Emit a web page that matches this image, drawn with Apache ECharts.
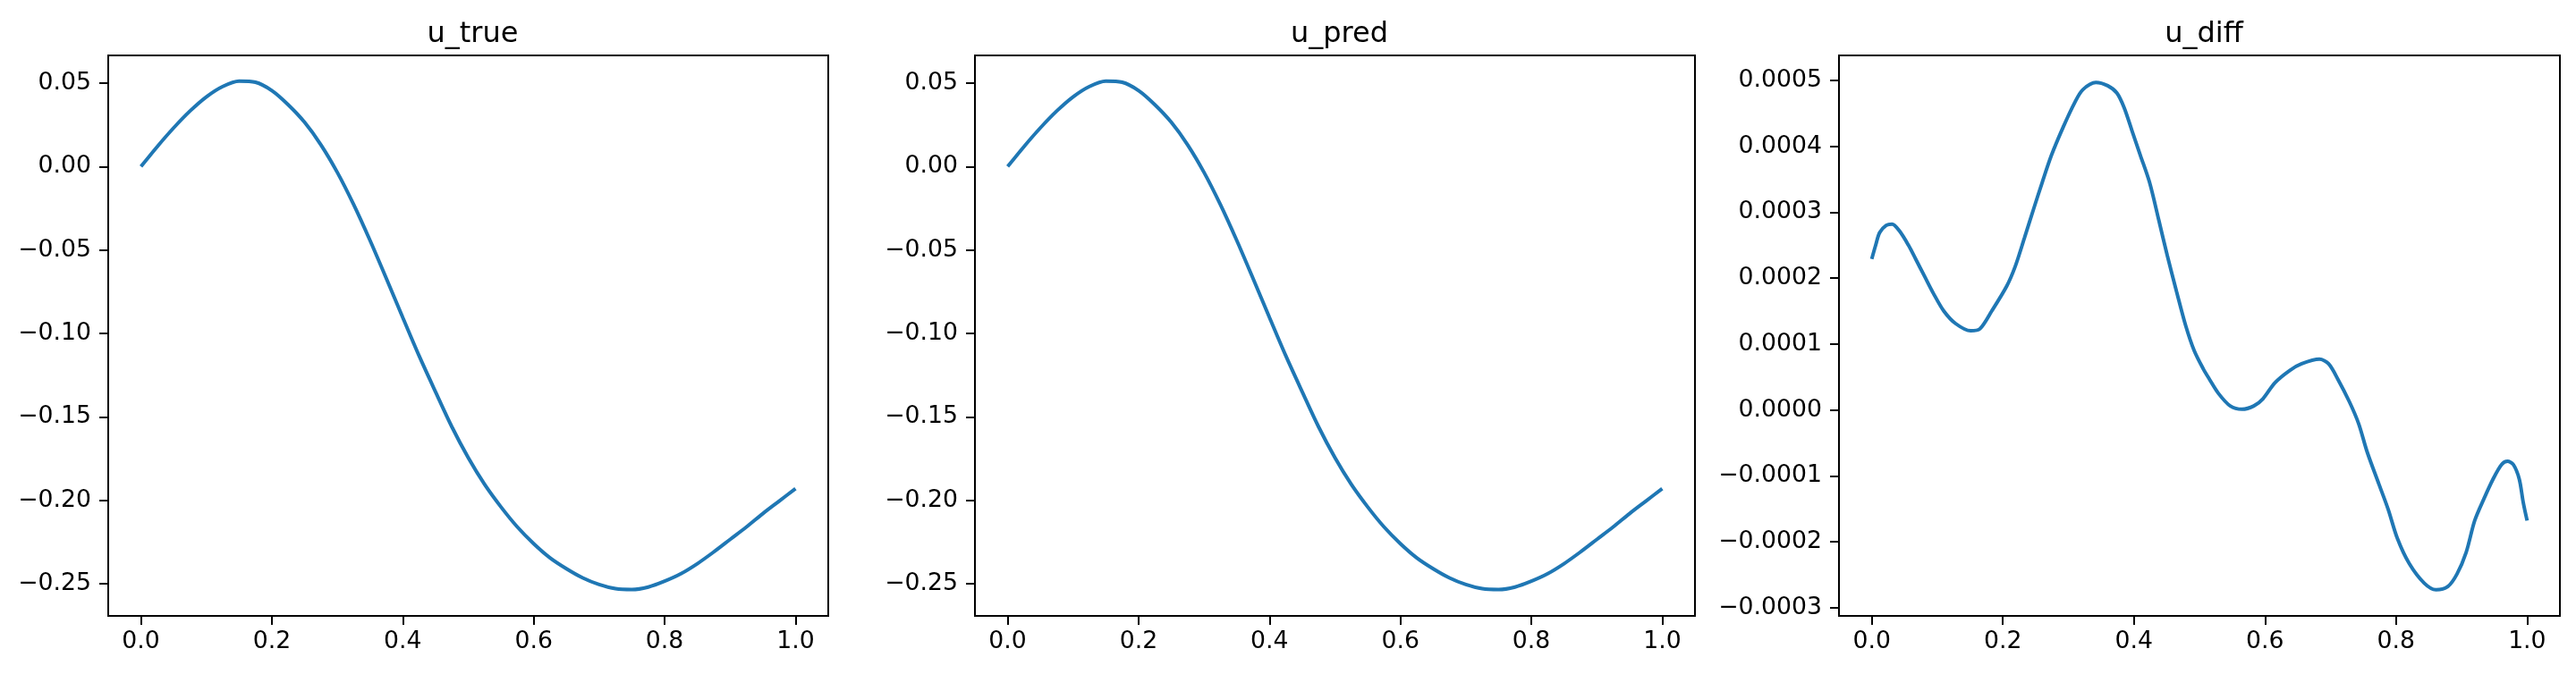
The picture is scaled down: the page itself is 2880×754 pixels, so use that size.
<!DOCTYPE html>
<html>
<head>
<meta charset="utf-8">
<script src="https://cdn.jsdelivr.net/npm/echarts@6/dist/echarts.min.js"></script>
<style>
html,body{margin:0;padding:0;background:#fff;}
#chart{width:2880px;height:754px;}
</style>
</head>
<body>
<div id="chart"></div>
<script>
// ---- data ----
const titles = ['u_true', 'u_pred', 'u_diff'];
const xTicks = [0, 0.2, 0.4, 0.6, 0.8, 1.0];
const yTicksU = [-0.25, -0.20, -0.15, -0.10, -0.05, 0.00, 0.05];
const yTicksDiff = [-0.0003, -0.0002, -0.0001, 0, 0.0001, 0.0002, 0.0003, 0.0004, 0.0005];

const xU = [0.000, 0.025, 0.050, 0.075, 0.100, 0.125, 0.150, 0.175, 0.200, 0.225, 0.250,
            0.275, 0.300, 0.325, 0.350, 0.375, 0.400, 0.425, 0.450, 0.475, 0.500,
            0.525, 0.550, 0.575, 0.600, 0.625, 0.650, 0.675, 0.700, 0.725, 0.750,
            0.775, 0.800, 0.825, 0.850, 0.875, 0.900, 0.925, 0.950, 0.975, 1.000];
const uTrue = [0.0000, 0.0120, 0.0232, 0.0333, 0.0418, 0.0480, 0.0512, 0.0505, 0.0455, 0.0370, 0.0265,
               0.0130, -0.0035, -0.0228, -0.0443, -0.0672, -0.0905, -0.1135, -0.1350, -0.1560, -0.1745,
               -0.1905, -0.2040, -0.2160, -0.2260, -0.2345, -0.2410, -0.2465, -0.2505, -0.2530, -0.2535,
               -0.2520, -0.2485, -0.2440, -0.2380, -0.2310, -0.2235, -0.2160, -0.2080, -0.2005, -0.1930];
const uPred = [0.0000, 0.0120, 0.0232, 0.0333, 0.0418, 0.0480, 0.0512, 0.0505, 0.0455, 0.0370, 0.0265,
               0.0130, -0.0035, -0.0228, -0.0443, -0.0672, -0.0905, -0.1135, -0.1350, -0.1560, -0.1745,
               -0.1905, -0.2040, -0.2160, -0.2260, -0.2345, -0.2410, -0.2465, -0.2505, -0.2530, -0.2535,
               -0.2520, -0.2485, -0.2440, -0.2380, -0.2310, -0.2235, -0.2160, -0.2080, -0.2005, -0.1930];

const xDiff = [0.000, 0.006, 0.012, 0.022, 0.031, 0.042, 0.056, 0.067, 0.081, 0.094, 0.110, 0.128, 0.151, 0.165,
               0.183, 0.206, 0.219, 0.233, 0.247, 0.260, 0.274, 0.292, 0.310, 0.322, 0.342, 0.360, 0.374, 0.385,
               0.397, 0.410, 0.424, 0.438, 0.451, 0.465, 0.479, 0.492, 0.506, 0.515, 0.529, 0.547, 0.565, 0.583,
               0.597, 0.615, 0.638, 0.656, 0.683, 0.697, 0.711, 0.729, 0.743, 0.756, 0.774, 0.788, 0.802, 0.820,
               0.843, 0.861, 0.879, 0.893, 0.907, 0.920, 0.934, 0.948, 0.961, 0.970, 0.979, 0.988, 0.994, 1.000];
const uDiff = [0.000229, 0.000250, 0.000269, 0.000280, 0.000282, 0.000272, 0.000250, 0.000229, 0.000202, 0.000177,
               0.000150, 0.000131, 0.000120, 0.000123, 0.000150, 0.000188, 0.000218, 0.000261, 0.000305, 0.000345,
               0.000386, 0.000429, 0.000467, 0.000486, 0.000497, 0.000492, 0.000481, 0.000459, 0.000424, 0.000386,
               0.000345, 0.000288, 0.000234, 0.000180, 0.000128, 0.000090, 0.000062, 0.000047, 0.000025, 0.000006,
               0.000001, 0.000006, 0.000017, 0.000041, 0.000060, 0.000070, 0.000077, 0.000070, 0.000047, 0.000012,
               -0.000021, -0.000064, -0.000113, -0.000151, -0.000195, -0.000233, -0.000263, -0.000273, -0.000268, -0.000249,
               -0.000216, -0.000168, -0.000135, -0.000105, -0.000083, -0.000078, -0.000083, -0.000105, -0.000140, -0.000168];

// ---- layout ----
const FONT = 'DejaVu Sans';
const grids = [
  {left: 121, top: 62, width: 805, height: 627},
  {left: 1090, top: 62, width: 805, height: 627},
  {left: 2056, top: 62, width: 806, height: 627}
];
const yRanges = [[-0.2693, 0.0666], [-0.2693, 0.0666], [-0.0003126, 0.000538]];
const yTickSets = [yTicksU, yTicksU, yTicksDiff];
const yDigits = [2, 2, 4];

function fmt(v, d) {
  const s = Math.abs(v).toFixed(d);
  return (v < 0 && Math.abs(v) > 1e-12) ? '\u2212' + s : s;
}
function zip(xs, ys) { return xs.map((x, i) => [x, ys[i]]); }
const seriesData = [zip(xU, uTrue), zip(xU, uPred), zip(xDiff, uDiff)];

const axisLineStyle = {show: true, onZero: false, lineStyle: {color: '#000', width: 2}};

const option = {
  backgroundColor: '#ffffff',
  animation: false,
  title: grids.map((g, i) => ({
    text: titles[i],
    left: g.left + g.width / 2,
    top: 18,
    textAlign: 'center',
    textStyle: {fontFamily: FONT, fontSize: 32, fontWeight: 'normal', color: '#000', lineHeight: 32}
  })),
  grid: grids.map(g => Object.assign({show: true, borderColor: '#000', borderWidth: 2, backgroundColor: 'transparent', containLabel: false}, g)),
  xAxis: grids.map((g, i) => ({
    type: 'value', gridIndex: i, min: -0.05, max: 1.05, position: 'bottom',
    axisLine: axisLineStyle,
    splitLine: {show: false},
    axisTick: {show: true, inside: false, length: 10, lineStyle: {color: '#000', width: 2}, customValues: xTicks},
    axisLabel: {show: true, margin: 16, customValues: xTicks, formatter: v => fmt(v, 1),
      fontFamily: FONT, fontSize: 26.7, color: '#000'}
  })),
  yAxis: grids.map((g, i) => ({
    type: 'value', gridIndex: i, min: yRanges[i][0], max: yRanges[i][1], position: 'left',
    axisLine: axisLineStyle,
    splitLine: {show: false},
    axisTick: {show: true, inside: false, length: 10, lineStyle: {color: '#000', width: 2}, customValues: yTickSets[i]},
    axisLabel: {show: true, margin: 19, customValues: yTickSets[i], formatter: v => fmt(v, yDigits[i]),
      fontFamily: FONT, fontSize: 26.7, color: '#000'}
  })),
  series: seriesData.map((d, i) => ({
    type: 'line', xAxisIndex: i, yAxisIndex: i, data: d,
    showSymbol: false, smooth: 0.3,
    lineStyle: {color: '#1f77b4', width: 4},
    itemStyle: {color: '#1f77b4'}
  }))
};

const chart = echarts.init(document.getElementById('chart'), null, {renderer: 'canvas', width: 2880, height: 754});
chart.setOption(option);
</script>
</body>
</html>
